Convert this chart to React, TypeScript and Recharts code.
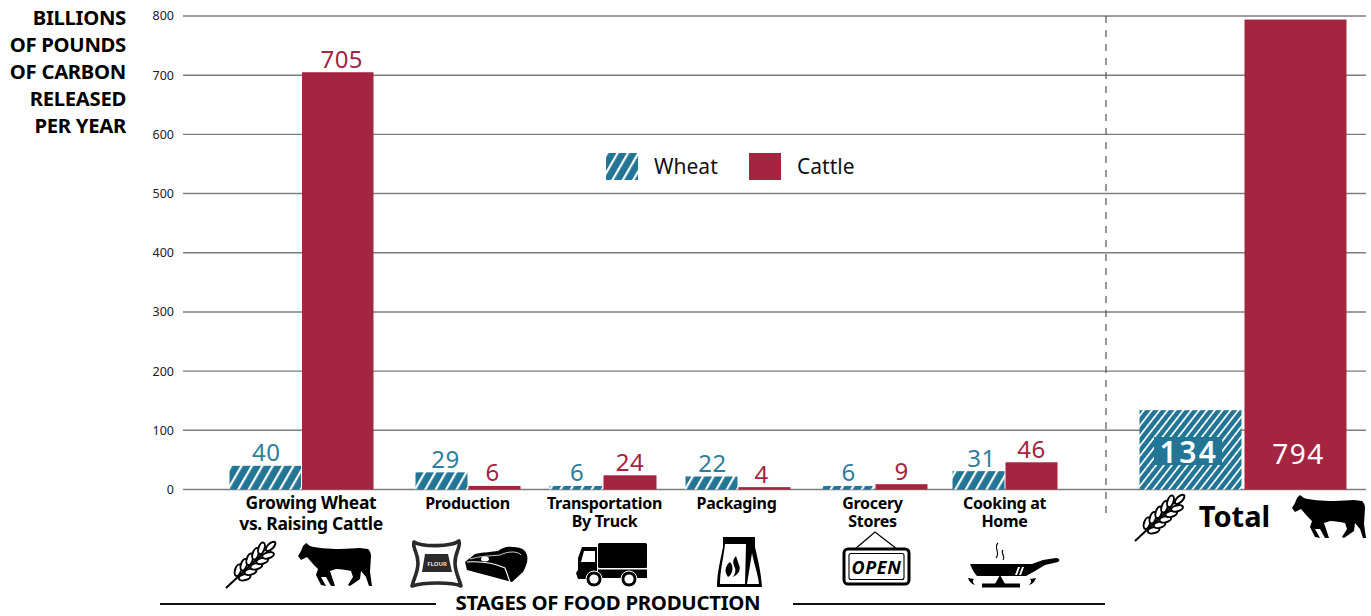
import React from 'react';
import { BarChart, Bar, XAxis, YAxis, CartesianGrid, ReferenceLine, LabelList, Legend } from 'recharts';

const stages = ['Growing', 'Production', 'Transportation', 'Packaging', 'Grocery', 'Cooking', 'Total'];
const wheatValues = [40, 29, 6, 22, 6, 31, 134];
const cattleValues = [705, 6, 24, 4, 9, 46, 794];
const yTicks = [0, 100, 200, 300, 400, 500, 600, 700, 800];
const tickLines = [
  ['Growing Wheat', 'vs. Raising Cattle'],
  ['Production'],
  ['Transportation', 'By Truck'],
  ['Packaging'],
  ['Grocery', 'Stores'],
  ['Cooking at', 'Home'],
  ['Total'],
];
const yTitle = ['BILLIONS', 'OF POUNDS', 'OF CARBON', 'RELEASED', 'PER YEAR'];

// x axis runs in plot pixels so the uneven group spacing of the original survives
const stageCentres = [118, 284.5, 419.5, 554.5, 691.5, 821.5, 1059.5];
const stageBarWidths = [71.5, 52, 53, 52, 52, 52, 102];
const stageGaps = [1, 1, 1, 1, 1, 1, 3];
const tickShift = [10, 0, 2, -1, -2, 0, -8];
// the value labels are not quite centred over their bars in the original
const labelShift = {
  wheat: [1, 4, 1, 1, 0, 3, 0],
  cattle: [4, -2, 0, -3, 0, 0, 0],
};

const data = stages.map((stage, i) => ({
  stage,
  pos: stageCentres[i],
  wheat: wheatValues[i],
  cattle: cattleValues[i],
}));

const BLUE = '#237596';
const BLUE_TEXT = '#2f7d9c';
const RED = '#a4253f';
const FONT = '"Noto Sans", "Open Sans", sans-serif';
const TOTAL_INDEX = 6;

// Recharts gives y and height from the value scale, width comes from the group
function barBox(side: 'wheat' | 'cattle', x: number, width: number, index: number) {
  const w = stageBarWidths[index];
  const shift = (stageGaps[index] - 1) / 2;
  return side === 'wheat' ? { x: x + width - w - shift, w } : { x: x + shift, w };
}

function WheatBar(props: any) {
  const { x, y, width, height, index } = props;
  const box = barBox('wheat', x, width, index);
  const fill = index === TOTAL_INDEX ? 'url(#hatchTotal)' : 'url(#hatch)';
  return <rect x={box.x} y={y} width={box.w} height={height} fill={fill} />;
}

function CattleBar(props: any) {
  const { x, y, width, height, index } = props;
  const box = barBox('cattle', x, width, index);
  return <rect x={box.x} y={y} width={box.w} height={height} fill={RED} />;
}

function ValueLabel(props: any) {
  const { x, y, width, value, index, side } = props;
  const box = barBox(side, x, width, index);
  const cx = box.x + box.w / 2 + labelShift[side as 'wheat' | 'cattle'][index];
  if (index === TOTAL_INDEX) {
    if (side === 'wheat') {
      return (
        <g>
          <rect x={1154} y={437} width={68} height={28} fill={BLUE} />
          <text x={1189} y={463} textAnchor="middle" fill="#fff" fontFamily={FONT} fontWeight={600} fontSize={30} letterSpacing={2.5}>
            {value}
          </text>
        </g>
      );
    }
    return (
      <text x={cx + 3} y={464} textAnchor="middle" fill="#fff" fontFamily={FONT} fontSize={28} letterSpacing={1.5}>
        {value}
      </text>
    );
  }
  return (
    <text x={cx} y={y - 4.5} textAnchor="middle" fill={side === 'wheat' ? BLUE_TEXT : RED} fontFamily={FONT} fontSize={24} letterSpacing={0.4}>
      {value}
    </text>
  );
}

function StageTick(props: any) {
  const { x, y, payload } = props;
  const index = stageCentres.indexOf(payload.value);
  const cx = x + tickShift[index];
  if (index === TOTAL_INDEX) {
    return (
      <text x={cx} y={y + 35} textAnchor="middle" fontFamily={FONT} fontWeight={700} fontSize={29} fill="#000">
        {tickLines[index][0]}
      </text>
    );
  }
  const first = index === 0;
  return (
    <text textAnchor="middle" fontFamily={FONT} fontWeight={700} fontSize={first ? 17.5 : 16} letterSpacing={-0.3} fill="#000">
      {tickLines[index].map((line, i) => (
        <tspan key={line} x={cx} y={y + 17.5 + i * (first ? 21 : 17.5)}>
          {line}
        </tspan>
      ))}
    </text>
  );
}

function LegendRow(props: any) {
  return (
    <div style={{ display: 'flex', alignItems: 'center', fontFamily: FONT, fontSize: 21, color: '#111' }}>
      {props.payload.map((item: any, i: number) => (
        <div key={item.value} style={{ display: 'flex', alignItems: 'center', width: i === 0 ? 143 : 110 }}>
          <svg width={32} height={27} style={{ marginRight: 16 }}>
            <rect width={32} height={27} fill={item.color} />
          </svg>
          {item.value}
        </div>
      ))}
    </div>
  );
}

function WheatIcon({ x, y }: { x: number; y: number }) {
  const rows = [21, 29, 37, 45, 53];
  return (
    <g transform={`translate(${x},${y}) rotate(-43)`} stroke="#000" strokeWidth={2} fill="#fff">
      <line x1={0} y1={0} x2={50} y2={0} />
      {rows.map((r) => (
        <g key={r}>
          <ellipse cx={r} cy={-4.8} rx={6} ry={3} transform={`rotate(-28 ${r} -4.8)`} />
          <ellipse cx={r} cy={4.8} rx={6} ry={3} transform={`rotate(28 ${r} 4.8)`} />
        </g>
      ))}
      <ellipse cx={61} cy={0} rx={6} ry={2.8} />
    </g>
  );
}

function CowIcon({ x, y }: { x: number; y: number }) {
  return (
    <path
      transform={`translate(${x},${y})`}
      fill="#000"
      d="M0,13 L3,8 L5,3 L8,0 L12,3 C18,5 30,6 42,6 C50,6 56,5 62,5 L70,6 C72,8 73,10 73,13 L72,29 L74,43 L71,43 L68,34 L63,28 L62,36 L52,43 L50,42 L55,34 L53,28 C48,27 44,26 38,26 L32,28 L37,43 L33,43 L28,34 L23,34 L28,43 L23,42 L18,32 L20,26 L15,21 L9,14 L3,17 Z"
    />
  );
}

function Icons() {
  return (
    <g>
      <WheatIcon x={226} y={588} />
      <CowIcon x={298} y={543} />
      <WheatIcon x={1135} y={541} />
      <CowIcon x={1292} y={495} />

      {/* flour bag and steak */}
      <path d="M414,542 C422,547 451,547 459,541 C461,547 455,552 455,563 C455,572 459,578 461,586 C452,582 424,582 412,586 C414,578 418,572 418,563 C418,552 412,548 414,542 Z" fill="#fff" stroke="#2a2a2a" strokeWidth={3.6} strokeLinejoin="round" />
      <path d="M425,554 H448 L452,572 H422 Z" fill="#2b2b2b" />
      <text x={437} y={566} textAnchor="middle" fontFamily={FONT} fontWeight={700} fontSize={6} fill="#ddd">FLOUR</text>
      <path d="M465,562 L475,554 C484,552 492,552 498,551 C502,548 507,546 512,547 C519,547 525,549 526,553 C529,558 527,565 523,572 L512,582 L467,570 Z" fill="#000" />
      <path d="M467,562 C480,561 494,563 505,568 L510,582" fill="none" stroke="#fff" strokeWidth={1.1} />
      <ellipse cx={485} cy={559} rx={4} ry={2.5} fill="#fff" />
      <path d="M470,559 C480,556 490,556 500,555 C508,551 518,551 521,555" fill="none" stroke="#fff" strokeWidth={0.8} />

      {/* truck */}
      <rect x={598} y={543} width={49} height={25} rx={1.5} fill="#000" />
      <rect x={598} y={569.5} width={49} height={8.5} fill="#000" />
      <path d="M597,547 H582 L578,558 V570 L576,573 L578,579 H597 Z" fill="#000" />
      <path d="M581,562 L584,551 H595 V562 Z" fill="#fff" />
      <circle cx={594} cy={579} r={8} fill="#000" stroke="#fff" strokeWidth={1} />
      <circle cx={594} cy={579} r={4.6} fill="#fff" />
      <circle cx={629} cy={579} r={8} fill="#000" stroke="#fff" strokeWidth={1} />
      <circle cx={629} cy={579} r={4.6} fill="#fff" />

      {/* coffee bag */}
      <path d="M723,537 H755 L755,547 C758,560 761,572 762,587 H717 C717,572 721,558 723,547 Z" fill="#000" />
      <path d="M725,544 H746 L745,584 H720 C720,570 724,556 725,544 Z" fill="#fff" />
      <path d="M752,553 C754,564 758,574 759,584 H747 Z" fill="#fff" />
      <path d="M730,562 C725,566 724,572 728,577 C733,574 734,566 730,562 Z" fill="#000" />
      <path d="M736,556 C732,560 733,564 735,568 C736,571 735,574 733,577 C739,574 741,569 739,565 C738,562 737,559 736,556 Z" fill="#000" />

      {/* open sign */}
      <path d="M855,549 L875,532 L897,549" fill="none" stroke="#000" strokeWidth={1.3} />
      <rect x={844} y={549} width={65} height={35} rx={4} fill="#fff" stroke="#000" strokeWidth={3} />
      <rect x={849} y={553.5} width={55} height={26} rx={2} fill="none" stroke="#000" strokeWidth={1.1} />
      <text x={876.5} y={574} textAnchor="middle" fontFamily={FONT} fontWeight={700} fontStyle="italic" fontSize={18} letterSpacing={0.6} fill="#000">OPEN</text>

      {/* pan on burner */}
      <path d="M998,543 C993,548 1001,552 996,558 M1003,550 C1000,553 1006,556 1003,560" fill="none" stroke="#000" strokeWidth={1.1} />
      <path d="M970,564 H1032 L1043,560 L1056,558 C1060,558 1060,561 1058,562 L1045,565 L1035,571 L1026,576 H977 C974,573 972,569 970,564 Z" fill="#000" />
      <path d="M1015,575 L1018,567 H1020 L1017,575 Z M1019,575 L1022,567 H1024 L1021,575 Z" fill="#fff" />
      <path d="M968,578 C969,581 971,584 975,585 C973,583 972,581 974,579 Z M1036,578 C1035,581 1033,584 1029,585 C1031,583 1032,581 1030,579 Z" fill="#000" />
      <path d="M995,584 L1000,575 L1005,584 Z" fill="#000" />
      <rect x={982} y={583.5} width={38} height={4} fill="#000" />
    </g>
  );
}

export default function App() {
  return (
    <div style={{ position: 'absolute', left: 0, top: 0, width: 1371, height: 616, background: '#fff' }}>
      <BarChart
        width={1371}
        height={616}
        data={data}
        barSize={52}
        barGap={1}
        margin={{ top: 16, right: 5, bottom: 66.5, left: 133 }}
      >
        <defs>
          <pattern id="hatch" width={9} height={9} patternUnits="userSpaceOnUse" patternTransform="rotate(30)">
            <rect width={9} height={9} fill={BLUE} />
            <rect width={2.2} height={9} fill="#fff" />
          </pattern>
          <pattern id="hatchTotal" width={6.2} height={6.2} patternUnits="userSpaceOnUse" patternTransform="rotate(38)">
            <rect width={6.2} height={6.2} fill={BLUE} />
            <rect width={1.7} height={6.2} fill="#fff" />
          </pattern>
        </defs>
        <CartesianGrid vertical={false} stroke="#7d7d7d" strokeWidth={1.4} />
        <XAxis
          dataKey="pos"
          type="number"
          scale="linear"
          domain={[0, 1183]}
          ticks={stageCentres}
          interval={0}
          height={60}
          axisLine={false}
          tickLine={false}
          tickSize={0}
          tick={<StageTick />}
        />
        <YAxis
          domain={[0, 800]}
          ticks={yTicks}
          width={50}
          axisLine={false}
          tickLine={false}
          tickSize={0}
          tickMargin={9}
          tick={{ fontFamily: FONT, fontSize: 12.5, fill: '#222' }}
        />
        <ReferenceLine
          segment={[{ x: 923, y: 800 }, { x: 923, y: -40 }]}
          ifOverflow="visible"
          stroke="#555"
          strokeWidth={1.2}
          strokeDasharray="7 7"
        />
        <Legend
          layout="vertical"
          align="center"
          verticalAlign="middle"
          itemSorter={null}
          wrapperStyle={{ position: 'absolute', left: 606, top: 152, width: 270 }}
          content={<LegendRow />}
        />
        <Bar dataKey="wheat" name="Wheat" fill="url(#hatch)" shape={<WheatBar />} isAnimationActive={false}>
          <LabelList dataKey="wheat" content={<ValueLabel side="wheat" />} />
        </Bar>
        <Bar dataKey="cattle" name="Cattle" fill={RED} shape={<CattleBar />} isAnimationActive={false}>
          <LabelList dataKey="cattle" content={<ValueLabel side="cattle" />} />
        </Bar>
        {yTitle.map((line, i) => (
          <text key={line} x={126} y={25 + i * 27} textAnchor="end" fontFamily={FONT} fontWeight={700} fontSize={20.3} letterSpacing={-0.3} fill="#000">
            {line}
          </text>
        ))}
        <Icons />
        <line x1={160} x2={436} y1={604} y2={604} stroke="#111" strokeWidth={2} />
        <line x1={793} x2={1105} y1={604} y2={604} stroke="#111" strokeWidth={2} />
        <text x={608} y={610} textAnchor="middle" fontFamily={FONT} fontWeight={700} fontSize={20.4} letterSpacing={-0.3} fill="#000">
          STAGES OF FOOD PRODUCTION
        </text>
      </BarChart>
    </div>
  );
}
